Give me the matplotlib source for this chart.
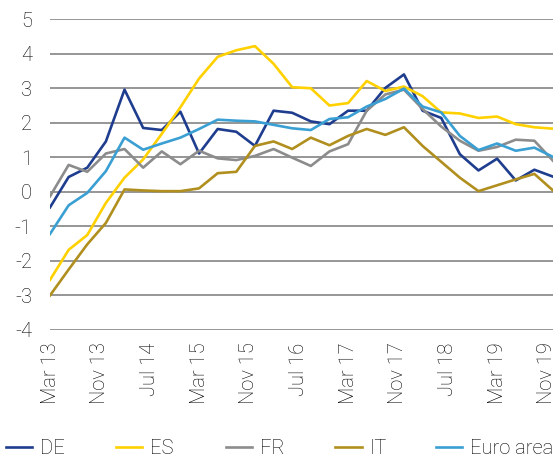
import matplotlib
matplotlib.use('Agg')
import matplotlib.pyplot as plt

plt.rcParams['font.family'] = ['Roboto', 'DejaVu Sans']
plt.rcParams['font.weight'] = 'light'
plt.rcParams['axes.unicode_minus'] = False

# quarterly points, months after Mar 2013 (Mar, Jun, Sep, Dec ... Dec 2019)
meses = list(range(0, 82, 3))
etiquetas = ['Mar 13', 'Nov 13', 'Jul 14', 'Mar 15', 'Nov 15', 'Jul 16',
             'Mar 17', 'Nov 17', 'Jul 18', 'Mar 19', 'Nov 19']
pos_etiquetas = list(range(0, 81, 8))

de = [-0.45, 0.43, 0.70, 1.46, 2.96, 1.85, 1.79, 2.32, 1.11, 1.82, 1.74, 1.33, 2.35, 2.29,
      2.04, 1.96, 2.35, 2.35, 3.01, 3.40, 2.35, 2.14, 1.09, 0.62, 0.96, 0.33, 0.64, 0.44]
es = [-2.55, -1.68, -1.25, -0.32, 0.41, 0.94, 1.68, 2.45, 3.28, 3.91, 4.10, 4.22, 3.71, 3.03,
      3.00, 2.50, 2.57, 3.21, 2.92, 3.05, 2.77, 2.30, 2.27, 2.14, 2.18, 1.96, 1.87, 1.83]
fr = [-0.13, 0.78, 0.58, 1.11, 1.24, 0.70, 1.17, 0.80, 1.19, 0.97, 0.92, 1.04, 1.24, 0.99,
      0.75, 1.17, 1.38, 2.35, 2.82, 2.96, 2.40, 1.89, 1.48, 1.19, 1.30, 1.51, 1.48, 0.90]
it = [-3.0, -2.25, -1.52, -0.90, 0.07, 0.04, 0.02, 0.02, 0.10, 0.54, 0.58, 1.33, 1.46, 1.24,
      1.57, 1.35, 1.62, 1.82, 1.65, 1.87, 1.33, 0.87, 0.41, 0.02, 0.19, 0.36, 0.52, 0.04]
euro = [-1.22, -0.39, -0.03, 0.60, 1.57, 1.22, 1.40, 1.57, 1.82, 2.09, 2.06, 2.04, 1.94, 1.84,
        1.79, 2.11, 2.16, 2.47, 2.69, 2.99, 2.47, 2.30, 1.62, 1.21, 1.40, 1.19, 1.28, 1.01]

series = [('DE', de, '#1f3d8f'), ('ES', es, '#ffd100'), ('FR', fr, '#8c8c8c'),
          ('IT', it, '#b08f1f'), ('Euro area', euro, '#3a9fd3')]

fig = plt.figure(figsize=(5.6, 4.57), dpi=100)
ax = fig.add_axes([0.0893, 0.278, 0.8982, 0.680])

lineas = []
for nombre, valores, color in series:
    l, = ax.plot(meses, valores, color=color, linewidth=1.9, label=nombre)
    lineas.append(l)

ax.set_xlim(0, 81)
ax.set_ylim(-4, 5)
ax.set_yticks(range(-4, 6))
ax.set_xticks(pos_etiquetas)
ax.set_xticklabels(etiquetas, rotation=90, fontsize=14.5)
ax.tick_params(axis='y', labelsize=14.5, length=0, pad=13)
ax.tick_params(axis='x', length=0, pad=9)
ax.grid(axis='y', color='#8e8e8e', linewidth=1.3)
ax.set_axisbelow(True)
for s in ax.spines.values():
    s.set_visible(False)

x_leyenda = [0.01, 0.207, 0.403, 0.599, 0.778]
for l, xl in zip(lineas, x_leyenda):
    fig.legend(handles=[l], loc='center left', bbox_to_anchor=(xl, 0.018), frameon=False,
               fontsize=14.5, handlelength=1.3, handletextpad=0.4, borderaxespad=0,
               borderpad=0)

fig.savefig('out.png', dpi=100)
